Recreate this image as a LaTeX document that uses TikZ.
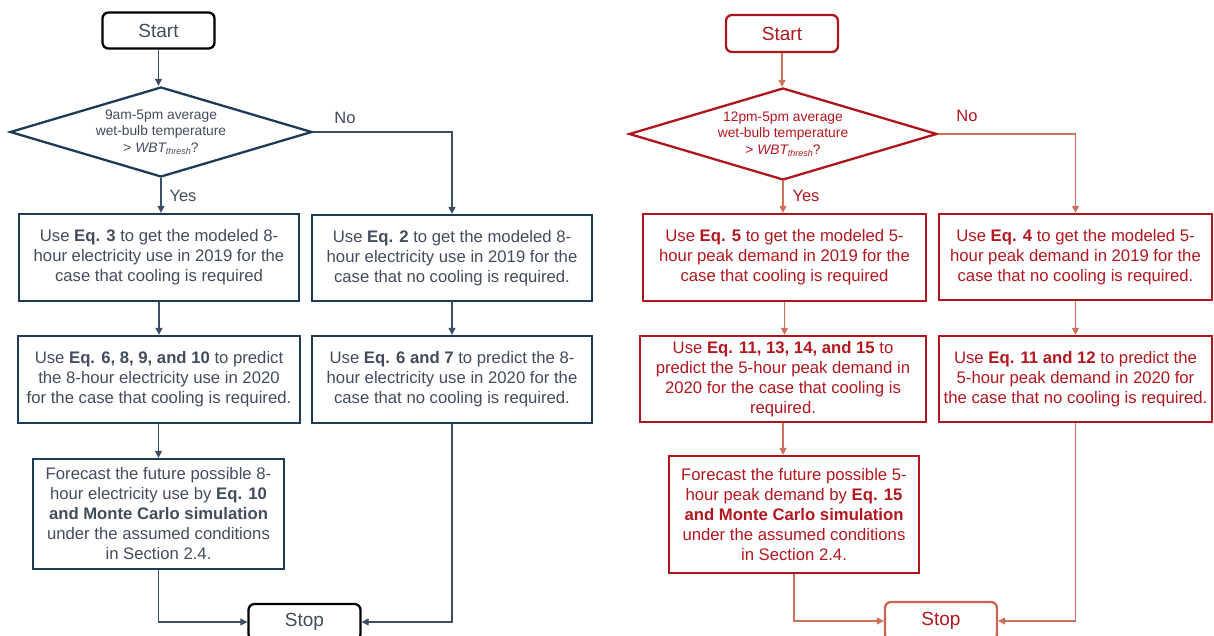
\documentclass[tikz,border=0pt]{standalone}
\usepackage{fontspec}
\setmainfont{Liberation Sans}
\usetikzlibrary{shapes.geometric,arrows.meta}
\definecolor{bText}{HTML}{414C5C}
\definecolor{bLine}{HTML}{1F3A56}
\definecolor{bConn}{HTML}{3B4E66}
\definecolor{rText}{HTML}{B2161E}
\definecolor{rLine}{HTML}{B0141C}
\definecolor{rConn}{HTML}{D0705A}
\definecolor{rStop}{HTML}{C8654F}
\newcommand{\wbt}{{\itshape WBT}\raisebox{-0.12em}{\fontsize{9}{9}\selectfont\itshape thresh}}
\tikzset{
  boxtxt/.style={font=\fontsize{16.7}{20}\selectfont, align=center, inner sep=1pt, line width=2.3pt},
  bbox/.style={boxtxt, draw=bLine, text=bText},
  rbox/.style={boxtxt, draw=rLine, text=rText},
  term/.style={rounded corners=6pt, line width=2.3pt, font=\fontsize{19}{22}\selectfont, minimum width=112pt, minimum height=36pt, inner sep=0pt},
  dia/.style={diamond, line width=2.3pt, inner sep=0pt},
  diatxt/.style={font=\fontsize{13.8}{16.5}\selectfont, align=center},
  lbl/.style={font=\fontsize{16.5}{18}\selectfont, inner sep=0pt},
  bconn/.style={draw=bConn, line width=1.3pt, -{Triangle[length=7pt,width=7pt]}},
  rconn/.style={draw=rConn, line width=1.3pt, -{Triangle[length=7pt,width=7pt]}},
}
\begin{document}
\begin{tikzpicture}[x=1pt,y=-1pt]
\useasboundingbox (0,0) rectangle (1214,636);
% ---------------- left (blue) ----------------
\node[term, draw=black, text=bText] (startL) at (158.5,30.5) {Start};
\node[dia, draw=bLine, minimum width=302pt, minimum height=90pt,
      label={[diatxt, text=bText, name=dLt]center:9am-5pm average\\wet-bulb temperature\\> \wbt?}] (dL) at (161,132) {};
\node[lbl, text=bText] (noL) at (345,118) {No};
\node[lbl, text=bText] (yesL) at (183,196) {Yes};
\node[bbox, minimum width=280pt, minimum height=87pt] (b1L) at (159,257.5)
  {Use \textbf{Eq. 3} to get the modeled 8-\\hour electricity use in 2019 for the\\case that cooling is required};
\node[bbox, minimum width=280pt, minimum height=86pt] (b2L) at (452,258)
  {Use \textbf{Eq. 2} to get the modeled 8-\\hour electricity use in 2019 for the\\case that no cooling is required.};
\node[bbox, minimum width=282pt, minimum height=87pt] (b3L) at (159,379.5)
  {Use \textbf{Eq. 6, 8, 9, and 10} to predict\\the 8-hour electricity use in 2020\\for the case that cooling is required.};
\node[bbox, minimum width=280pt, minimum height=87pt] (b4L) at (452,379.5)
  {Use \textbf{Eq. 6 and 7} to predict the 8-\\hour electricity use in 2020 for the\\case that no cooling is required.};
\node[bbox, minimum width=251pt, minimum height=110pt] (b5L) at (158.5,514)
  {Forecast the future possible 8-\\hour electricity use by \textbf{Eq. 10}\\\textbf{and Monte Carlo simulation}\\under the assumed conditions\\in Section 2.4.};
\node[term, draw=black, text=bText] (stopL) at (304.5,622) {Stop};
\draw[bconn] (startL.south) -- (startL.south |- dL.north);
\draw[bconn] (dL.south) -- (dL.south |- b1L.north);
\draw[bconn] (dL.east) -| (b2L.north);
\draw[bconn] (b1L.south) -- (b1L.south |- b3L.north);
\draw[bconn] (b2L.south) -- (b4L.north);
\draw[bconn] (b3L.south -| b5L.north) -- (b5L.north);
\draw[bconn] (b5L.south) |- (stopL.west);
\draw[bconn] (b4L.south) |- (stopL.east);
% ---------------- right (red) ----------------
\node[term, draw=rLine, text=rText, minimum height=37pt] (startR) at (782,33.5) {Start};
\node[dia, draw=rLine, minimum width=308pt, minimum height=92pt,
      label={[diatxt, text=rText, name=dRt]center:12pm-5pm average\\wet-bulb temperature\\> \wbt?}] (dR) at (783,134) {};
\node[lbl, text=rText] (noR) at (967,116) {No};
\node[lbl, text=rText] (yesR) at (806,196) {Yes};
\node[rbox, minimum width=283pt, minimum height=87pt] (b1R) at (784.5,257.5)
  {Use \textbf{Eq. 5} to get the modeled 5-\\hour peak demand in 2019 for the\\case that cooling is required};
\node[rbox, minimum width=273pt, minimum height=86pt] (b2R) at (1075.5,257)
  {Use \textbf{Eq. 4} to get the modeled 5-\\hour peak demand in 2019 for the\\case that no cooling is required.};
\node[rbox, minimum width=286pt, minimum height=86pt] (b3R) at (783,379)
  {Use \textbf{Eq. 11, 13, 14, and 15} to\\predict the 5-hour peak demand in\\2020 for the case that cooling is\\required.};
\node[rbox, minimum width=273pt, minimum height=86pt] (b4R) at (1075.5,379)
  {Use \textbf{Eq. 11 and 12} to predict the\\5-hour peak demand in 2020 for\\the case that no cooling is required.};
\node[rbox, minimum width=250pt, minimum height=117pt] (b5R) at (794,514.5)
  {Forecast the future possible 5-\\hour peak demand by \textbf{Eq. 15}\\\textbf{and Monte Carlo simulation}\\under the assumed conditions\\in Section 2.4.};
\node[term, draw=rStop, text=rText, minimum height=38pt] (stopR) at (941,621) {Stop};
\draw[rconn] (startR.south) -- (startR.south |- dR.north);
\draw[rconn] (dR.south) -- (dR.south |- b1R.north);
\draw[rconn] (dR.east) -| (b2R.north);
\draw[rconn] (b1R.south) -- (b1R.south |- b3R.north);
\draw[rconn] (b2R.south) -- (b4R.north);
\draw[rconn] (b3R.south) -- (b3R.south |- b5R.north);
\draw[rconn] (b5R.south) |- (stopR.west);
\draw[rconn] (b4R.south) |- (stopR.east);
\end{tikzpicture}
\end{document}
